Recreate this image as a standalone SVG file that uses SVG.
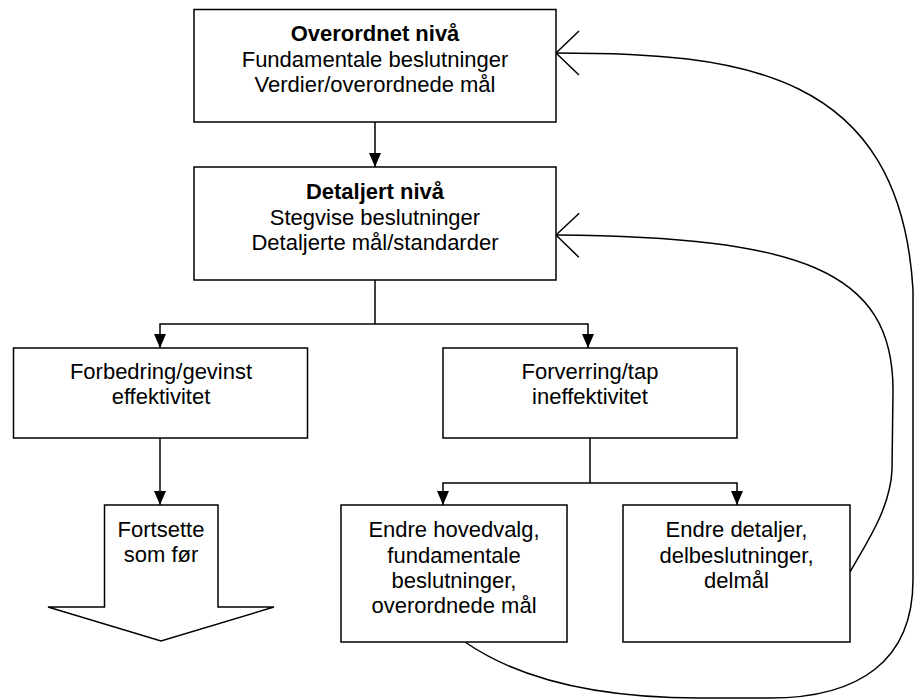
<svg xmlns="http://www.w3.org/2000/svg" width="914" height="700" viewBox="0 0 914 700">
  <style>
    .box { fill: #ffffff; stroke: #000000; stroke-width: 1.5; }
    .wire { fill: none; stroke: #000000; stroke-width: 1.5; }
    .loop { fill: none; stroke: #000000; stroke-width: 1.5; marker-end: url(#openHead); }
    .lbl { font-family: "Liberation Sans", Arial, sans-serif; font-size: 22px; fill: #000000; text-anchor: middle; }
    .bold { font-weight: bold; }
  </style>
  <defs>
    <marker id="solidHead" markerUnits="userSpaceOnUse" viewBox="0 0 14 12" refX="14" refY="6" markerWidth="14" markerHeight="12" orient="auto">
      <path d="M0,0 L14,6 L0,12 z" fill="#000000"/>
    </marker>
    <marker id="openHead" markerUnits="userSpaceOnUse" viewBox="-26 -25 28 50" refX="0" refY="0" markerWidth="28" markerHeight="50" orient="auto">
      <path d="M-23,-22 L0,0 L-23,22" fill="none" stroke="#000000" stroke-width="1.5"/>
    </marker>
  </defs>

  <g id="connectors">
    <!-- Overordnet -> Detaljert -->
    <path class="wire" d="M375,122 L375,167" marker-end="url(#solidHead)"/>
    <!-- Detaljert split -->
    <path class="wire" d="M375,280 L375,324"/>
    <path class="wire" d="M375,324 L160,324 L160,348" marker-end="url(#solidHead)"/>
    <path class="wire" d="M375,324 L588,324 L588,348" marker-end="url(#solidHead)"/>
    <!-- Forbedring -> Fortsette -->
    <path class="wire" d="M160,438 L160,505" marker-end="url(#solidHead)"/>
    <!-- Forverring split -->
    <path class="wire" d="M590,438 L590,483"/>
    <path class="wire" d="M590,483 L443,483 L443,505" marker-end="url(#solidHead)"/>
    <path class="wire" d="M590,483 L737,483 L737,505" marker-end="url(#solidHead)"/>
    <!-- feedback loops -->
    <path class="loop" d="M465,642 C520,680 600,698 700,698 L770,698 C860,698 913,660 913,580 L913,290 C900,70 740,53 556,53"/>
    <path class="loop" d="M850,572 C865,545 890,510 892,470 L893,390 C893,270 800,237 556,235"/>
  </g>

  <g id="overordnet">
    <rect class="box" x="194" y="9.5" width="362" height="112.5"/>
    <text class="lbl bold" x="375" y="41">Overordnet nivå</text>
    <text class="lbl" x="375" y="66.5">Fundamentale beslutninger</text>
    <text class="lbl" x="375" y="92">Verdier/overordnede mål</text>
  </g>

  <g id="detaljert">
    <rect class="box" x="194" y="167" width="362" height="113"/>
    <text class="lbl bold" x="375" y="199">Detaljert nivå</text>
    <text class="lbl" x="375" y="224.5">Stegvise beslutninger</text>
    <text class="lbl" x="375" y="250">Detaljerte mål/standarder</text>
  </g>

  <g id="forbedring">
    <rect class="box" x="13.5" y="348" width="294" height="90"/>
    <text class="lbl" x="161" y="379">Forbedring/gevinst</text>
    <text class="lbl" x="161" y="404">effektivitet</text>
  </g>

  <g id="forverring">
    <rect class="box" x="443" y="348" width="294" height="90"/>
    <text class="lbl" x="590" y="379">Forverring/tap</text>
    <text class="lbl" x="590" y="404">ineffektivitet</text>
  </g>

  <g id="fortsette">
    <polygon class="box" points="104.5,505 218,505 218,607 274,607 161,641 48,607 104.5,607"/>
    <text class="lbl" x="161" y="537">Fortsette</text>
    <text class="lbl" x="161" y="562">som før</text>
  </g>

  <g id="endre-hovedvalg">
    <rect class="box" x="341" y="505" width="226" height="137"/>
    <text class="lbl" x="454" y="537">Endre hovedvalg,</text>
    <text class="lbl" x="454" y="562.5">fundamentale</text>
    <text class="lbl" x="454" y="588">beslutninger,</text>
    <text class="lbl" x="454" y="613">overordnede mål</text>
  </g>

  <g id="endre-detaljer">
    <rect class="box" x="623" y="505" width="227" height="137"/>
    <text class="lbl" x="736.5" y="537">Endre detaljer,</text>
    <text class="lbl" x="736.5" y="562.5">delbeslutninger,</text>
    <text class="lbl" x="736.5" y="588">delmål</text>
  </g>
</svg>
